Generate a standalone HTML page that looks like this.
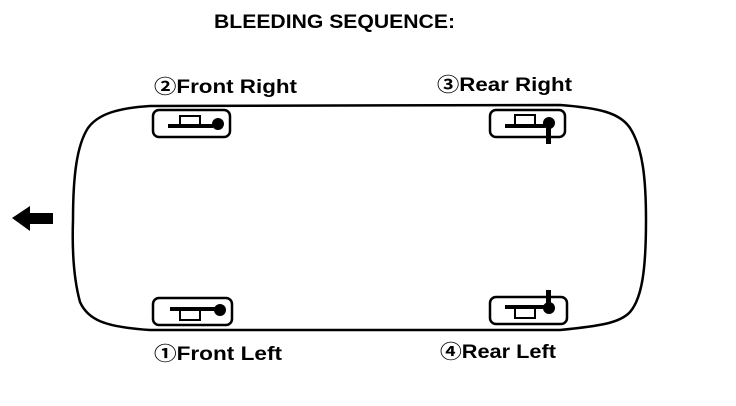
<!DOCTYPE html>
<html><head><meta charset="utf-8"><style>
html,body{margin:0;padding:0;background:#fff;}
svg{display:block}
text{font-family:"Liberation Sans","Noto Sans CJK JP",sans-serif;font-weight:bold;fill:#000}
</style></head><body>
<svg width="736" height="406" viewBox="0 0 736 406" xmlns="http://www.w3.org/2000/svg">
<text x="214" y="28" font-size="19" textLength="241" lengthAdjust="spacingAndGlyphs">BLEEDING SEQUENCE:</text>
<text x="154" y="93" font-size="19" textLength="143" lengthAdjust="spacingAndGlyphs">②Front Right</text>
<text x="437" y="91" font-size="19" textLength="135" lengthAdjust="spacingAndGlyphs">③Rear Right</text>
<text x="154" y="360" font-size="19" textLength="128" lengthAdjust="spacingAndGlyphs">①Front Left</text>
<text x="440" y="358" font-size="19" textLength="116" lengthAdjust="spacingAndGlyphs">④Rear Left</text>
<path d="M150,106 L560,105 C600,108 620,113 630,128 C643,148 646,180 646,220 C646,270 642,298 630,312 C620,323 600,326 560,330 L150,330 C105,327 88,320 80,302 C74,280 72,250 73,220 C73,175 77,145 88,128 C98,114 118,108 150,106Z" fill="none" stroke="#000" stroke-width="2.5"/>
<polygon points="12,218 30,206 30,213 53,213 53,224 30,224 30,231" fill="#000"/>
<g fill="none" stroke="#000" stroke-width="2.5">
<rect x="153" y="110" width="77" height="27" rx="6"/>
<rect x="490" y="110" width="75" height="27" rx="6"/>
<rect x="153" y="298" width="79" height="27" rx="6"/>
<rect x="490" y="297" width="77" height="27" rx="6"/>
</g>
<g>
<rect x="168" y="124" width="45" height="4"/>
<rect x="180" y="116" width="20" height="9" fill="none" stroke="#000" stroke-width="2"/>
<circle cx="218" cy="124" r="6"/>
<rect x="505" y="124" width="40" height="4"/>
<rect x="515" y="115" width="20" height="10" fill="none" stroke="#000" stroke-width="2"/>
<circle cx="549" cy="123" r="6"/>
<rect x="546" y="125" width="5" height="19"/>
<rect x="170" y="307" width="45" height="4"/>
<rect x="180" y="310" width="20" height="10" fill="none" stroke="#000" stroke-width="2"/>
<circle cx="220" cy="310" r="6"/>
<rect x="505" y="305" width="40" height="4"/>
<rect x="515" y="308" width="20" height="10" fill="none" stroke="#000" stroke-width="2"/>
<circle cx="549" cy="308" r="6"/>
<rect x="546" y="290" width="5" height="18"/>
</g>
</svg>
</body></html>
